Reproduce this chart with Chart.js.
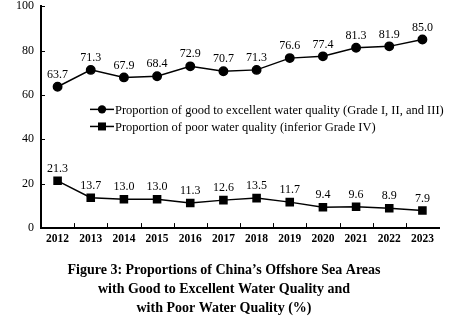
<!DOCTYPE html>
<html>
<head>
<meta charset="utf-8">
<script src="https://cdn.jsdelivr.net/npm/chart.js@4.4.0/dist/chart.umd.min.js"></script>
<style>
  html, body { margin: 0; padding: 0; background: #fff; }
  #wrap { width: 455px; height: 328px; overflow: hidden; }
  #canvas { display: block; margin-top: -8px; }
</style>
</head>
<body>
<div id="wrap"><canvas id="canvas" width="455" height="336"></canvas></div>
<script>
const years = ['2012', '2013', '2014', '2015', '2016', '2017', '2018', '2019', '2020', '2021', '2022', '2023'];
const goodQuality = [63.7, 71.3, 67.9, 68.4, 72.9, 70.7, 71.3, 76.6, 77.4, 81.3, 81.9, 85.0];
const poorQuality = [21.3, 13.7, 13.0, 13.0, 11.3, 12.6, 13.5, 11.7, 9.4, 9.6, 8.9, 7.9];
const yTicks = [0, 20, 40, 60, 80, 100];

const legendLabels = [
  'Proportion of good to excellent water quality (Grade I, II, and III)',
  'Proportion of poor water quality (inferior Grade IV)'
];
const titleLines = [
  'Figure 3: Proportions of China\u2019s Offshore Sea Areas',
  'with Good to Excellent Water Quality and',
  'with Poor Water Quality (%)'
];

const serif = '"Liberation Serif", "Times New Roman", serif';

// value labels above each point, inward tick marks and the in-plot legend
const extras = {
  id: 'extras',
  afterDatasetsDraw(chart) {
    const ctx = chart.ctx;
    const x = chart.scales.x;
    const y = chart.scales.y;
    ctx.save();
    ctx.fillStyle = '#000';
    ctx.font = '12px ' + serif;
    ctx.textAlign = 'center';
    ctx.textBaseline = 'bottom';
    chart.data.datasets.forEach((ds, i) => {
      chart.getDatasetMeta(i).data.forEach((pt, j) => {
        ctx.fillText(ds.data[j].toFixed(1), pt.x, pt.y - 6);
      });
    });

    ctx.strokeStyle = '#000';
    ctx.lineWidth = 1;
    for (let i = 0; i < years.length - 1; i++) {
      const px = Math.round((x.getPixelForValue(i) + x.getPixelForValue(i + 1)) / 2) + 0.5;
      ctx.beginPath();
      ctx.moveTo(px, x.top);
      ctx.lineTo(px, x.top - 5);
      ctx.stroke();
    }
    yTicks.forEach(v => {
      const py = Math.round(y.getPixelForValue(v)) + 0.5;
      ctx.beginPath();
      ctx.moveTo(y.right, py);
      ctx.lineTo(y.right + 4, py);
      ctx.stroke();
    });

    // legend rows sit inside the plot, between the two series
    const lx = 90;
    const ly = [y.getPixelForValue(53.5), y.getPixelForValue(45.8)];
    ctx.textAlign = 'left';
    ctx.textBaseline = 'middle';
    ctx.font = '12.5px ' + serif;
    chart.data.datasets.forEach((ds, i) => {
      ctx.lineWidth = 1.5;
      ctx.beginPath();
      ctx.moveTo(lx, ly[i]);
      ctx.lineTo(lx + 24, ly[i]);
      ctx.stroke();
      ctx.beginPath();
      if (ds.pointStyle === 'rect') {
        ctx.rect(lx + 8, ly[i] - 4, 8, 8);
      } else {
        ctx.arc(lx + 12, ly[i], 4.2, 0, Math.PI * 2);
      }
      ctx.fill();
      ctx.fillText(ds.label, lx + 25, ly[i] + 1);
    });
    ctx.restore();
  }
};

new Chart(document.getElementById('canvas'), {
  type: 'line',
  data: {
    labels: years,
    datasets: [
      {
        label: legendLabels[0],
        data: goodQuality,
        borderColor: '#000',
        backgroundColor: '#000',
        borderWidth: 1.5,
        pointStyle: 'circle',
        pointRadius: 4.2,
        tension: 0
      },
      {
        label: legendLabels[1],
        data: poorQuality,
        borderColor: '#000',
        backgroundColor: '#000',
        borderWidth: 1.5,
        pointStyle: 'rect',
        pointRadius: 5,
        tension: 0
      }
    ]
  },
  options: {
    responsive: false,
    animation: false,
    layout: { padding: { left: 9, right: 16, top: 0, bottom: 4 } },
    plugins: {
      legend: { display: false },
      tooltip: { enabled: false },
      title: {
        display: true,
        position: 'bottom',
        text: titleLines,
        color: '#000',
        font: { family: serif, size: 14, weight: 'bold', lineHeight: 1.36 },
        padding: { top: 11, bottom: 6 }
      }
    },
    scales: {
      x: {
        offset: true,
        grid: { display: false, drawTicks: false },
        border: { color: '#000', width: 2 },
        ticks: {
          color: '#000',
          padding: 4,
          maxRotation: 0,
          font: { family: serif, size: 11.5, weight: 'bold' }
        }
      },
      y: {
        min: 0,
        max: 100,
        afterBuildTicks(scale) {
          scale.ticks = yTicks.map(v => ({ value: v }));
        },
        grid: { display: false, drawTicks: false },
        border: { color: '#000', width: 2 },
        ticks: {
          color: '#000',
          padding: 7,
          font: { family: serif, size: 12 }
        }
      }
    }
  },
  plugins: [extras]
});
</script>
</body>
</html>
